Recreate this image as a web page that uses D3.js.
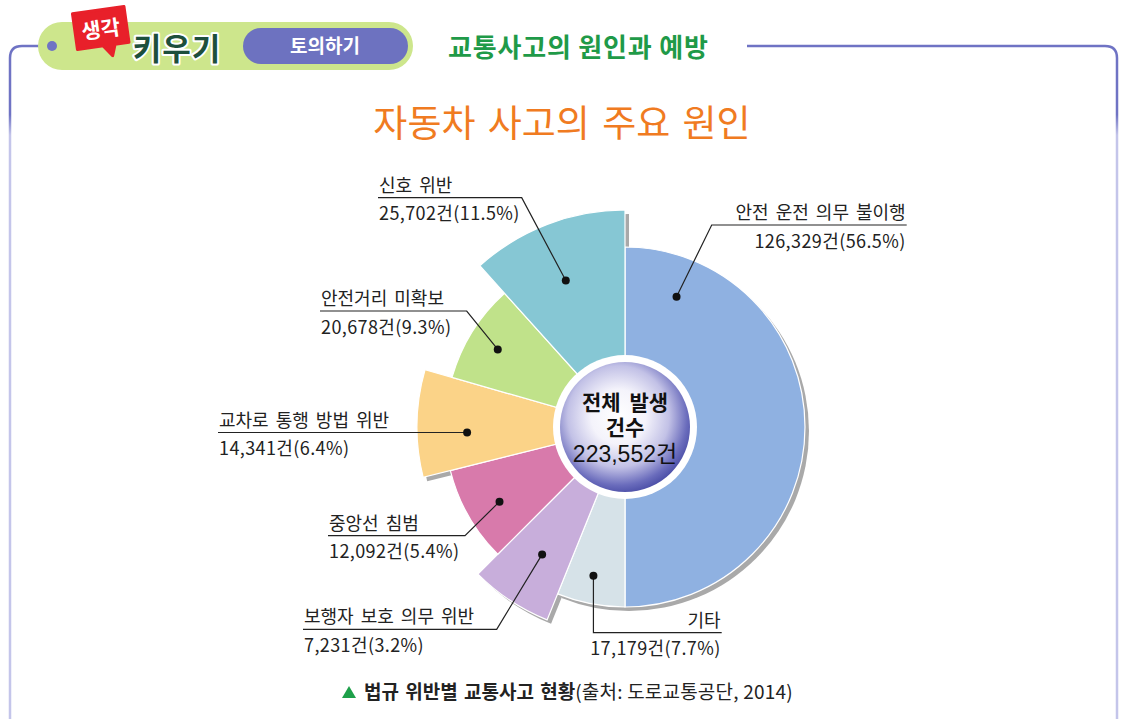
<!DOCTYPE html>
<html><head><meta charset="utf-8">
<script src="https://cdn.jsdelivr.net/npm/d3@7/dist/d3.min.js"></script>
<style>
html,body{margin:0;padding:0;background:#fff;}
svg{display:block;font-family:"Noto Sans CJK KR","Noto Sans",sans-serif;}
</style></head>
<body>
<svg id="c" width="1132" height="719"></svg>
<script>
// ---- data ----
const categories = ["안전 운전 의무 불이행","기타","보행자 보호 의무 위반","중앙선 침범","교차로 통행 방법 위반","안전거리 미확보","신호 위반"];
const counts     = [126329, 17179, 7231, 12092, 14341, 20678, 25702];
const percents   = [56.5, 7.7, 3.2, 5.4, 6.4, 9.3, 11.5];
const drawnShare = [180, 22, 23, 31, 30, 32, 42];   // angular share as drawn in the picture
const emphasis   = [0, 0, 1, 0, 1, 0, 2];            // slices pulled outward
const totalCount = 223552;
const titleText  = "자동차 사고의 주요 원인";
const headerText = "교통사고의 원인과 예방";
const captionBold = "법규 위반별 교통사고 현황";
const captionRest = "(출처: 도로교통공단, 2014)";

// ---- styles / layout ----
const colors = ["#8fb1e1","#d6e2e8","#c8aedb","#d87aab","#fbd388","#c0e28a","#86c7d4"];
const cx = 625, cy = 427;
const rScale = d3.scaleOrdinal().domain([0,1,2]).range([180, 208, 217]);
const fmt = d3.format(",");

const svg = d3.select("#c");
const defs = svg.append("defs");
const lg = defs.append("linearGradient").attr("id","frameGrad")
  .attr("gradientUnits","userSpaceOnUse").attr("x1",0).attr("y1",40).attr("x2",0).attr("y2",719);
lg.append("stop").attr("offset",0).attr("stop-color","#6f73c4");
lg.append("stop").attr("offset",0.11).attr("stop-color","#6f73c4");
lg.append("stop").attr("offset",0.14).attr("stop-color","#c4c5ea");
lg.append("stop").attr("offset",1).attr("stop-color","#c4c5ea");

const rg = defs.append("radialGradient").attr("id","ctrGrad").attr("cx","45%").attr("cy","42%").attr("r","60%");
rg.append("stop").attr("offset","0%").attr("stop-color","#ffffff");
rg.append("stop").attr("offset","35%").attr("stop-color","#f4f3fb");
rg.append("stop").attr("offset","65%").attr("stop-color","#c2c1e6");
rg.append("stop").attr("offset","88%").attr("stop-color","#6a6cbc");
rg.append("stop").attr("offset","100%").attr("stop-color","#4a4da6");

// ---- frame ----
svg.append("path").attr("fill","none").attr("stroke","url(#frameGrad)").attr("stroke-width",2.5)
  .attr("d","M52,46 H22 Q10,46 10,58 V719");
svg.append("path").attr("fill","none").attr("stroke","url(#frameGrad)").attr("stroke-width",2.5)
  .attr("d","M747,46 H1105 Q1117,46 1117,58 V719");

// header pill
svg.append("rect").attr("x",38).attr("y",22).attr("width",375).attr("height",48).attr("rx",24).attr("fill","#cde68c");
svg.append("circle").attr("cx",52).attr("cy",46).attr("r",5).attr("fill","#6f73c4");
svg.append("rect").attr("x",243).attr("y",28).attr("width",165).attr("height",36).attr("rx",18).attr("fill","#6d72c0");
svg.append("text").attr("x",325).attr("y",53).attr("text-anchor","middle").attr("fill","#fff")
  .attr("font-size",19).attr("font-weight",700).text("토의하기");
// 생각 bubble
const bub = svg.append("g").attr("transform","translate(101,30) rotate(-8)");
bub.append("path").attr("d","M-26,-20 H26 V16 H12 L8,27 L0,16 H-26 Z").attr("fill","#e8202a").attr("stroke","#e8202a").attr("stroke-linejoin","round").attr("stroke-width",3);
bub.append("text").attr("x",0).attr("y",7).attr("text-anchor","middle").attr("fill","#fff")
  .attr("font-size",21).attr("font-weight",700).text("생각");
svg.append("text").attr("x",177).attr("y",60).attr("text-anchor","middle").attr("fill","#1d4f3c")
  .attr("stroke","#fff").attr("stroke-width",4).attr("paint-order","stroke").attr("stroke-linejoin","round")
  .attr("font-size",31).attr("font-weight",700).attr("letter-spacing",1).text("키우기");
svg.append("text").attr("x",448).attr("y",57).attr("fill","#1f9a48").attr("font-size",26).attr("font-weight",700)
  .attr("letter-spacing",0.8).text(headerText);

// title
svg.append("text").attr("x",562).attr("y",137).attr("text-anchor","middle").attr("fill","#f07b21")
  .attr("font-size",37).attr("word-spacing",4).text(titleText);

// ---- pie ----
const data = categories.map((c,i)=>({c, count:counts[i], pct:percents[i], share:drawnShare[i], emph:emphasis[i], i}));
const pie = d3.pie().sort(null).value(d=>d.share).startAngle(0).endAngle(2*Math.PI);
const arcs = pie(data);
const arc = d3.arc().innerRadius(0).outerRadius(d=>rScale(d.data.emph));
const g = svg.append("g").attr("transform",`translate(${cx},${cy})`);
g.append("g").attr("transform","translate(4,4)").selectAll("path").data(arcs).join("path")
  .attr("d",arc).attr("fill","#a9a9a9");
g.append("g").selectAll("path").data(arcs).join("path")
  .attr("d",arc).attr("fill",(d,i)=>colors[i]).attr("stroke","#fff").attr("stroke-width",1.2);
g.append("circle").attr("r",72).attr("fill","#fff");
g.append("circle").attr("r",65).attr("fill","url(#ctrGrad)");
const ct = g.append("text").attr("text-anchor","middle").attr("fill","#111").attr("font-size",21)
  .style("font-family","'Liberation Sans','Noto Sans CJK KR',sans-serif");
ct.append("tspan").attr("x",0).attr("y",-17).attr("font-weight",700).attr("word-spacing",3).text("전체 발생");
ct.append("tspan").attr("x",0).attr("y",8).attr("font-weight",700).text("건수");
ct.append("tspan").attr("x",0).attr("y",35).attr("font-size",23).text(fmt(totalCount)+"건");

// ---- labels ----
const labelLayout = [
  {dotFrac:0.12, dotR:140, elbow:[711.7,225], end:[906.7,225], anchor:"end"},
  {dotFrac:0.545,dotR:152, elbow:[null,632.7], end:[721.7,632.7], anchor:"end"},
  {dotFrac:0.48, dotR:152, elbow:[496.7,629.3], end:[303,629.3], anchor:"start"},
  {dotFrac:0.46, dotR:146, elbow:[465,535.7], end:[328,535.7], anchor:"start"},
  {dotFrac:0.40, dotR:158, elbow:[null,null], end:[218,null], anchor:"start"},
  {dotFrac:0.48, dotR:149, elbow:[466.7,311], end:[320,311], anchor:"start"},
  {dotFrac:0.476,dotR:158, elbow:[521.7,197.7], end:[378,197.7], anchor:"start"}
];
const lab = svg.append("g");
arcs.forEach((a,i)=>{
  const L = labelLayout[i];
  const ang = a.startAngle + (a.endAngle - a.startAngle)*L.dotFrac;
  const dx = cx + L.dotR*Math.sin(ang), dy = cy - L.dotR*Math.cos(ang);
  const ex = L.elbow[0]==null ? dx : L.elbow[0];
  const ey = L.elbow[1]==null ? dy : L.elbow[1];
  const endY = L.end[1]==null ? ey : L.end[1];
  lab.append("path").attr("fill","none").attr("stroke","#222").attr("stroke-width",1.2)
    .attr("d",d3.line()([[dx,dy],[ex,ey],[L.end[0],endY]]));
  lab.append("circle").attr("cx",dx).attr("cy",dy).attr("r",4).attr("fill","#111");
  const tx = L.anchor==="start" ? L.end[0]+1 : L.end[0]-1;
  lab.append("text").attr("x",tx).attr("y",endY-6).attr("text-anchor",L.anchor)
    .attr("font-size",18).attr("word-spacing",3).attr("fill","#222").text(a.data.c);
  lab.append("text").attr("x",tx).attr("y",endY+22.5).attr("text-anchor",L.anchor)
    .attr("font-size",18).attr("letter-spacing",0.4).attr("fill","#222")
    .text(`${fmt(a.data.count)}건(${a.data.pct}%)`);
});

// ---- caption ----
svg.append("path").attr("d","M342,698 L356,698 L349,686 Z").attr("fill","#1ea04a");
const cap = svg.append("text").attr("x",364).attr("y",699).attr("font-size",19).attr("fill","#222");
cap.append("tspan").attr("font-weight",700).attr("word-spacing",2).text(captionBold);
cap.append("tspan").attr("letter-spacing",0.2).text(captionRest);
</script>
</body></html>
